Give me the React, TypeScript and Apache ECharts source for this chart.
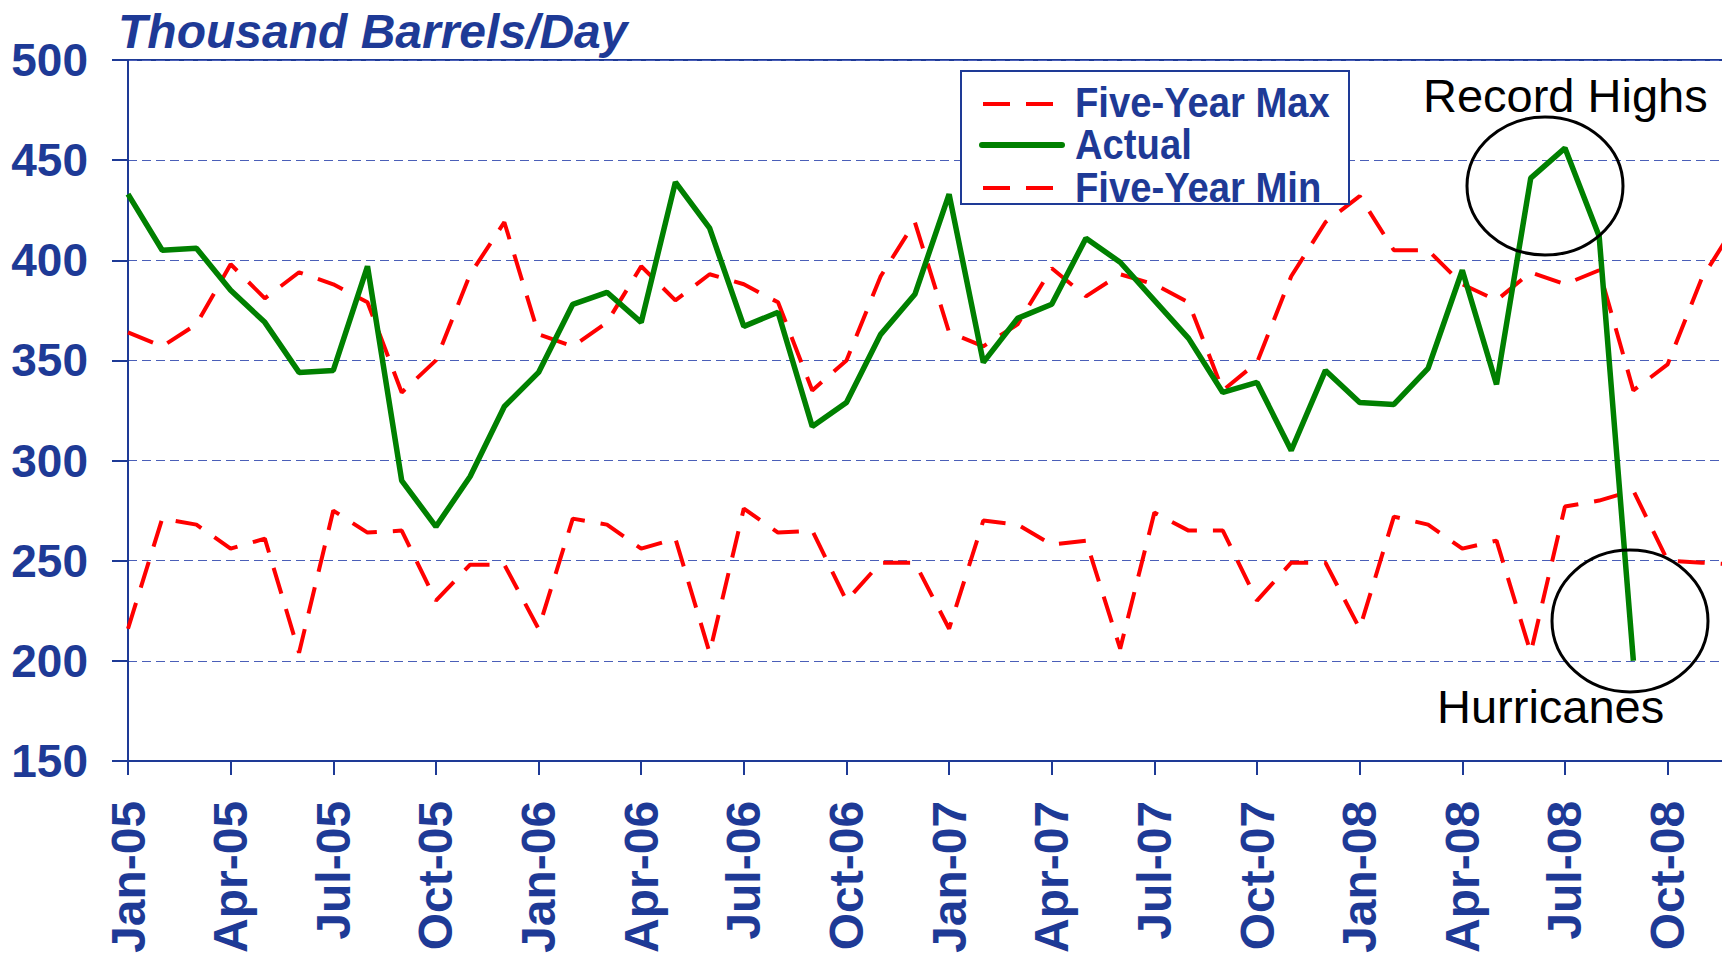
import React, { useEffect, useRef } from "react";
import * as echarts from "echarts";

const MONTHS = ["Jan", "Feb", "Mar", "Apr", "May", "Jun", "Jul", "Aug", "Sep", "Oct", "Nov", "Dec"];
const YEARS = ["05", "06", "07", "08"];
const CATEGORIES = YEARS.flatMap((y) => MONTHS.map((m) => `${m}-${y}`));

const ACTUAL = [
  433, 405, 406, 385, 369, 344, 345, 397, 290, 267, 292, 327,
  344, 378, 384, 369, 439, 416, 367, 374, 317, 329, 363, 383,
  433, 349, 371, 378, 411, 399, 380, 361, 334, 339, 305, 345,
  329, 328, 346, 395, 338, 441, 456, 412, 200, null, null, null,
];

const FIVE_YEAR_MAX = [
  364, 357, 368, 398, 381, 394, 388, 379, 334, 350, 393, 419,
  363, 357, 369, 397, 380, 393, 388, 379, 335, 350, 392, 419,
  364, 357, 368, 396, 382, 393, 388, 379, 335, 349, 392, 419,
  432, 405, 405, 388, 380, 394, 388, 395, 335, 348, 391, 418,
];

const FIVE_YEAR_MIN = [
  216, 271, 268, 256, 261, 204, 275, 264, 265, 230, 248, 248,
  216, 271, 268, 256, 261, 204, 276, 264, 265, 230, 249, 249,
  216, 270, 268, 258, 260, 206, 274, 265, 265, 230, 249, 249,
  216, 272, 268, 256, 260, 204, 277, 280, 285, 250, 249, 248,
];

const Y_MIN = 150;
const Y_MAX = 500;
const Y_STEP = 50;

const TITLE = "Thousand Barrels/Day";
const LEGEND_LABELS = ["Five-Year Max", "Actual", "Five-Year Min"];
const NOTE_HIGH = "Record Highs";
const NOTE_LOW = "Hurricanes";

const BLUE = "#1E3A96";
const RED = "#FF0000";
const GREEN = "#008000";
const FONT = '"Liberation Sans", Arial, sans-serif';

export default function App() {
  const ref = useRef<HTMLDivElement>(null);

  useEffect(() => {
    if (!ref.current) return;
    const chart = echarts.init(ref.current, undefined, { renderer: "svg" });

    const legendText = (text: string, y: number) => ({
      type: "text",
      x: 1075,
      y,
      scaleX: 0.91,
      z: 101,
      style: {
        text,
        fill: BLUE,
        font: `bold 42px ${FONT}`,
        textAlign: "left",
        verticalAlign: "middle",
        textVerticalAlign: "middle",
      },
    });

    chart.setOption({
      animation: false,
      backgroundColor: "#ffffff",
      grid: {
        left: 128,
        top: 60,
        right: 0,
        bottom: 193,
        show: true,
        borderColor: BLUE,
        borderWidth: 2,
        backgroundColor: "transparent",
      },
      xAxis: {
        type: "category",
        data: CATEGORIES,
        boundaryGap: false,
        axisLine: { show: true, lineStyle: { color: BLUE, width: 2 } },
        axisTick: { show: true, interval: 2, length: 14, lineStyle: { color: BLUE, width: 2 } },
        axisLabel: {
          interval: 2,
          rotate: 90,
          margin: 40,
          fontSize: 48,
          fontWeight: "bold",
          fontFamily: FONT,
          color: BLUE,
        },
        splitLine: { show: false },
      },
      yAxis: {
        type: "value",
        min: Y_MIN,
        max: Y_MAX,
        interval: Y_STEP,
        axisLine: { show: true, lineStyle: { color: BLUE, width: 2 } },
        axisTick: { show: true, length: 16, lineStyle: { color: BLUE, width: 2 } },
        axisLabel: {
          margin: 40,
          fontSize: 46,
          fontWeight: "bold",
          fontFamily: FONT,
          color: BLUE,
        },
        splitLine: { show: true, lineStyle: { color: "#4A5FB8", width: 1, type: [9, 5] } },
      },
      series: [
        {
          name: LEGEND_LABELS[0],
          type: "line",
          data: FIVE_YEAR_MAX,
          symbol: "none",
          z: 2,
          lineStyle: { color: RED, width: 4, type: [27, 16] },
        },
        {
          name: LEGEND_LABELS[2],
          type: "line",
          data: FIVE_YEAR_MIN,
          symbol: "none",
          z: 2,
          lineStyle: { color: RED, width: 4, type: [27, 16] },
        },
        {
          name: LEGEND_LABELS[1],
          type: "line",
          data: ACTUAL,
          symbol: "none",
          connectNulls: false,
          z: 3,
          lineStyle: { color: GREEN, width: 5.5 },
        },
      ],
      graphic: [
        {
          type: "text",
          x: 118,
          y: 31,
          z: 100,
          style: {
            text: TITLE,
            fill: BLUE,
            font: `italic bold 48px ${FONT}`,
            textAlign: "left",
            verticalAlign: "middle",
            textVerticalAlign: "middle",
          },
        },
        {
          type: "rect",
          z: 100,
          shape: { x: 961, y: 71, width: 388, height: 133 },
          style: { fill: "#ffffff", stroke: BLUE, lineWidth: 2 },
        },
        {
          type: "line",
          z: 101,
          shape: { x1: 983, y1: 104, x2: 1053, y2: 104 },
          style: { stroke: RED, lineWidth: 4, lineDash: [27, 16] },
        },
        {
          type: "line",
          z: 101,
          shape: { x1: 982, y1: 145, x2: 1062, y2: 145 },
          style: { stroke: GREEN, lineWidth: 6, lineCap: "round" },
        },
        {
          type: "line",
          z: 101,
          shape: { x1: 983, y1: 188, x2: 1053, y2: 188 },
          style: { stroke: RED, lineWidth: 4, lineDash: [27, 16] },
        },
        legendText(LEGEND_LABELS[0], 103),
        legendText(LEGEND_LABELS[1], 145),
        legendText(LEGEND_LABELS[2], 188),
        {
          type: "text",
          x: 1423,
          y: 95,
          z: 100,
          style: {
            text: NOTE_HIGH,
            fill: "#000000",
            font: `47px ${FONT}`,
            textAlign: "left",
            verticalAlign: "middle",
            textVerticalAlign: "middle",
          },
        },
        {
          type: "ellipse",
          z: 100,
          shape: { cx: 1545, cy: 186, rx: 78, ry: 69 },
          style: { fill: "none", stroke: "#000000", lineWidth: 3 },
        },
        {
          type: "ellipse",
          z: 100,
          shape: { cx: 1630, cy: 621, rx: 78, ry: 71 },
          style: { fill: "none", stroke: "#000000", lineWidth: 3 },
        },
        {
          type: "text",
          x: 1437,
          y: 706,
          z: 100,
          style: {
            text: NOTE_LOW,
            fill: "#000000",
            font: `47px ${FONT}`,
            textAlign: "left",
            verticalAlign: "middle",
            textVerticalAlign: "middle",
          },
        },
      ],
    });

    return () => chart.dispose();
  }, []);

  return (
    <div
      style={{ position: "fixed", left: 0, top: 0, width: 1722, height: 956, overflow: "hidden", background: "#fff" }}
    >
      <div ref={ref} style={{ position: "absolute", left: 0, top: 0, width: 1736, height: 956 }} />
    </div>
  );
}
